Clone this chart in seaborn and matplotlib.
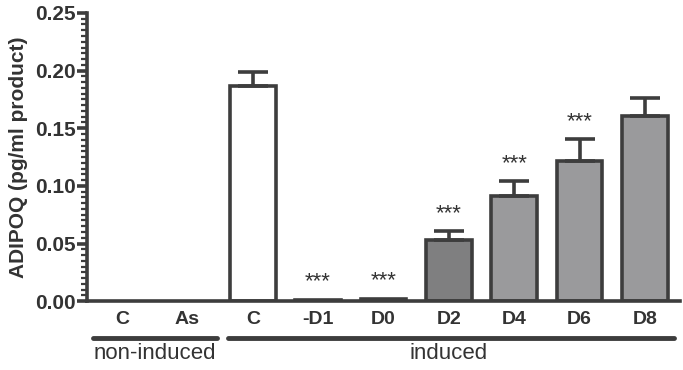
import matplotlib
matplotlib.use("Agg")
import matplotlib.pyplot as plt
import seaborn as sns
import pandas as pd
import numpy as np
from matplotlib.ticker import MultipleLocator

# ------------------------------------------------------------
# DATA
# ------------------------------------------------------------
group_ids = ["ni_C", "ni_As", "C", "-D1", "D0", "D2", "D4", "D6", "D8"]
tick_labels = ["C", "As", "C", "-D1", "D0", "D2", "D4", "D6", "D8"]
means = [0.0, 0.0, 0.187, 0.001, 0.002, 0.053, 0.091, 0.122, 0.161]
errors = [0.0, 0.0, 0.012, 0.0005, 0.0008, 0.008, 0.013, 0.019, 0.015]
signif = ["", "", "", "***", "***", "***", "***", "***", ""]
fill_colors = ["#ffffff", "#ffffff", "#ffffff", "#555555", "#555555",
               "#7f7f80", "#9a9a9c", "#9a9a9c", "#9a9a9c"]
y_ticks = [0.00, 0.05, 0.10, 0.15, 0.20, 0.25]

edge = "#3d3d3d"
txt = "#333333"

df = pd.DataFrame({"group": group_ids, "value": means})

sns.set_style("ticks")
plt.rcParams["font.family"] = ["Liberation Sans", "DejaVu Sans"]

fig = plt.figure(figsize=(6.83, 3.70), dpi=100)
ax = fig.add_axes([0.127, 0.186, 0.868, 0.779])

sns.barplot(data=df, x="group", y="value", hue="group", palette=fill_colors,
            order=group_ids, width=0.7, edgecolor=edge, linewidth=2.6,
            legend=False, ax=ax)

# empty (zero) bars are not drawn in the original
for p in ax.patches:
    if p.get_height() == 0:
        p.set_visible(False)

# upward-only error bars
xs = np.arange(len(group_ids))
for x, m, e in zip(xs, means, errors):
    if m > 0.004:
        ax.errorbar(x, m, yerr=[[0], [e]], fmt="none", ecolor=edge,
                    elinewidth=2.6, capsize=11, capthick=2.6, zorder=1)

for x, m, e, s in zip(xs, means, errors, signif):
    if s:
        ax.text(x, m + e + 0.006, s, ha="center", va="bottom",
                fontsize=16, color=txt)

ax.set_yticks(y_ticks)
ax.set_yticklabels([f"{v:.2f}" for v in y_ticks],
                   fontweight="bold", fontsize=15, color=txt)
ax.yaxis.set_minor_locator(MultipleLocator(0.005))
ax.set_xlim(-0.54, 8.53)
ax.set_ylim(0, 0.25)
ax.tick_params(axis="y", which="major", length=7, width=2.6, color=edge, pad=1)
ax.tick_params(axis="y", which="minor", length=4, width=1.6, color=edge)
ax.set_xticks(xs)
ax.set_xticklabels(tick_labels, fontweight="bold", fontsize=14, color=txt)
ax.tick_params(axis="x", length=0, pad=7)

ax.set_xlabel("")
ax.set_ylabel("ADIPOQ (pg/ml product)", fontweight="bold", fontsize=15,
              color=txt, labelpad=5)

sns.despine(ax=ax)
for side in ["left", "bottom"]:
    ax.spines[side].set_linewidth(2.6)
    ax.spines[side].set_color(edge)

# group brackets beneath the axis
trans = ax.get_xaxis_transform()
ax.plot([-0.45, 1.45], [-0.128, -0.128], transform=trans, color=edge,
        lw=3.5, solid_capstyle="round", clip_on=False)
ax.plot([1.62, 8.45], [-0.128, -0.128], transform=trans, color=edge,
        lw=3.5, solid_capstyle="round", clip_on=False)
ax.text(0.5, -0.145, "non-induced", transform=trans, ha="center", va="top",
        fontsize=16, color=txt)
ax.text(5.0, -0.145, "induced", transform=trans, ha="center", va="top",
        fontsize=16, color=txt)

fig.savefig("out.png", dpi=100)
